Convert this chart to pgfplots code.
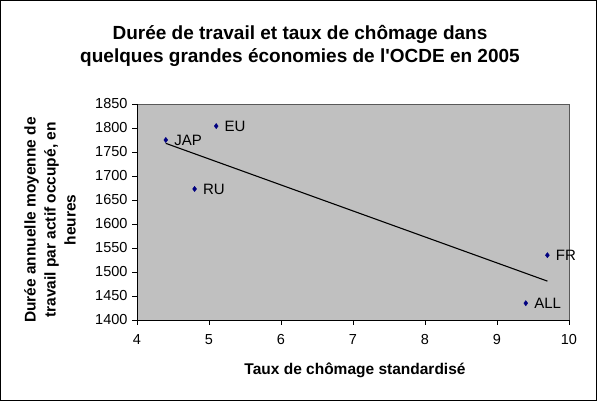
\documentclass[border=0pt]{standalone}
\usepackage{fontspec}
\setmainfont{Liberation Sans}[Ligatures=TeXOff]
\usepackage{pgfplots}
\pgfplotsset{compat=1.18}
\definecolor{plotgray}{RGB}{192,192,192}
\definecolor{navypt}{RGB}{0,0,128}
\begin{document}
\begin{tikzpicture}[x=1pt,y=1pt]
\draw[black, line width=0.8pt, fill=white] (0.4,0.4) rectangle (596.6,400.6);
\node[font=\fontsize{19}{22.5}\selectfont\bfseries, align=center] at (300,355) {Durée de travail et taux de chômage dans\\quelques grandes économies de l'OCDE en 2005};
\node[font=\fontsize{15.5}{20}\selectfont\bfseries, align=center, rotate=90] at (50,181) {Durée annuelle moyenne de\\travail par actif occupé, en\\heures};
\node[font=\fontsize{15.5}{18}\selectfont\bfseries] at (355,31) {Taux de chômage standardisé};
\begin{axis}[
  at={(137pt,81pt)}, anchor=south west,
  scale only axis, width=432pt, height=216pt,
  xmin=4, xmax=10, ymin=1400, ymax=1850,
  xtick={4,5,6,7,8,9,10}, ytick={1400,1450,...,1850},
  axis background/.style={fill=plotgray},
  axis line style={draw=none},
  tick style={black, line width=0.6pt},
  major tick length=5pt,
  tick align=outside,
  xtick pos=bottom, ytick pos=left,
  /pgf/number format/assume math mode=true,
  /pgf/number format/1000 sep={},
  tick label style={font=\fontsize{14.5}{16}\selectfont},
  xticklabel style={yshift=-6pt},
  yticklabel style={xshift=-1pt},
  clip=false,
]
\draw[gray!70!black, line width=0.6pt] (axis cs:4,1850) -- (axis cs:10,1850) -- (axis cs:10,1400);
\draw[black, line width=0.7pt] (axis cs:4,1850) -- (axis cs:4,1400) -- (axis cs:10,1400);
\addplot[black, line width=1.1pt, no marks] coordinates {(4.4,1768) (9.7,1481)};
\addplot[only marks, mark=diamond*, mark size=2.6pt, color=navypt,
  point meta=explicit symbolic,
  nodes near coords,
  nodes near coords align={anchor=west},
  every node near coord/.append style={font=\fontsize{15}{17}\selectfont, black, xshift=5pt},
] table[meta=lab] {
x y lab
4.4 1775 JAP
5.1 1804 EU
4.8 1673 RU
9.7 1535 FR
9.4 1435 ALL
};
\end{axis}
\end{tikzpicture}
\end{document}
